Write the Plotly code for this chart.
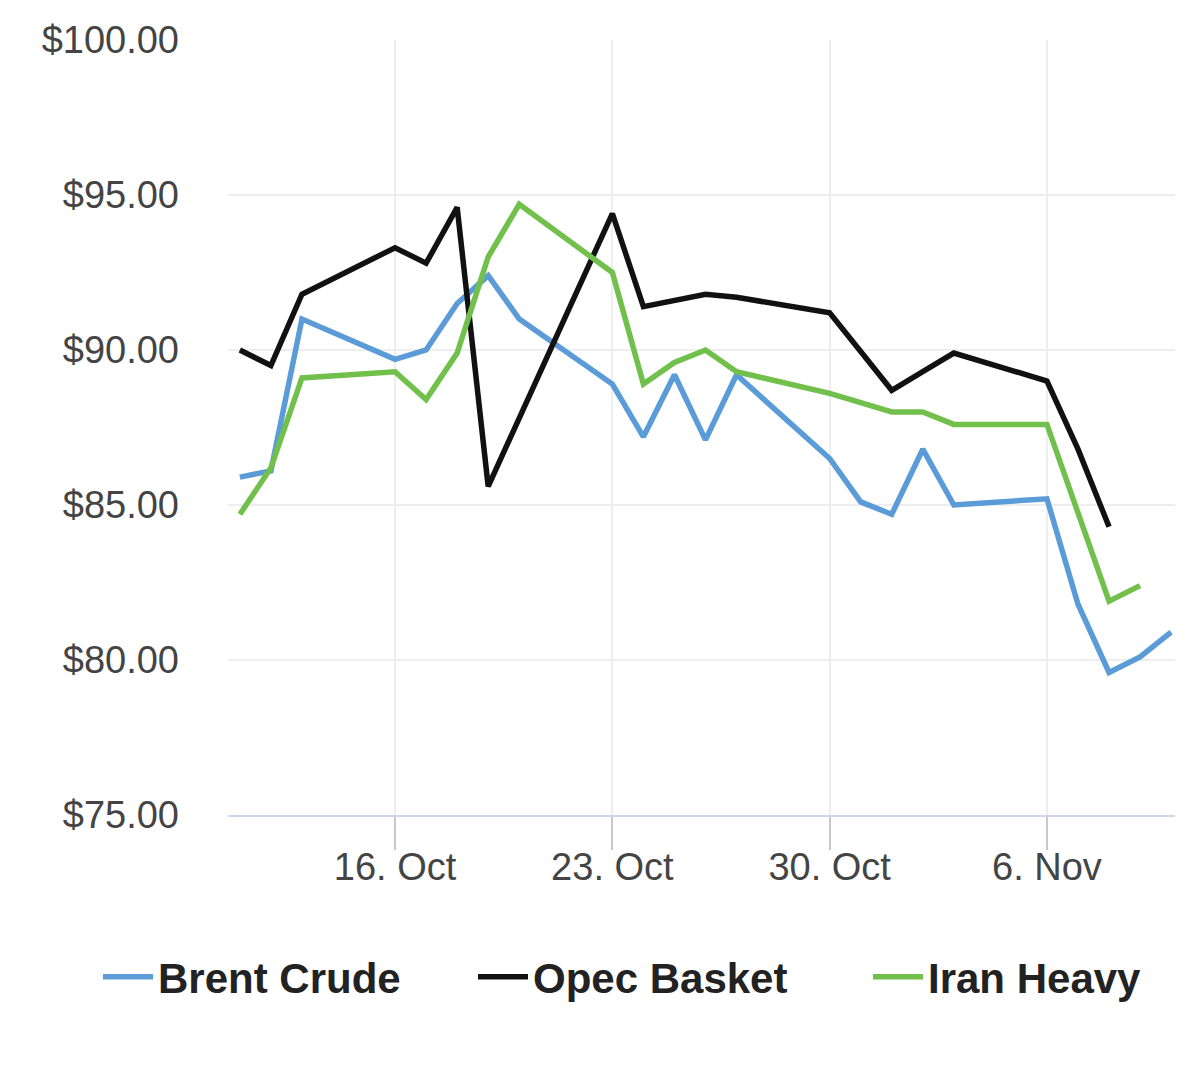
import plotly.graph_objects as go

dates = ["2023-10-11", "2023-10-12", "2023-10-13", "2023-10-16", "2023-10-17",
         "2023-10-18", "2023-10-19", "2023-10-20", "2023-10-23", "2023-10-24",
         "2023-10-25", "2023-10-26", "2023-10-27", "2023-10-30", "2023-10-31",
         "2023-11-01", "2023-11-02", "2023-11-03", "2023-11-06", "2023-11-07",
         "2023-11-08", "2023-11-09", "2023-11-10"]

brent_crude = [85.9, 86.1, 91.0, 89.7, 90.0, 91.5, 92.4, 91.0, 88.9, 87.2,
               89.2, 87.1, 89.2, 86.5, 85.1, 84.7, 86.8, 85.0, 85.2, 81.8,
               79.6, 80.1, 80.9]

opec_basket = [90.0, 89.5, 91.8, 93.3, 92.8, 94.6, 85.6, None, 94.4, 91.4,
               91.6, 91.8, 91.7, 91.2, 89.95, 88.7, 89.3, 89.9, 89.0, 86.8,
               84.3, None, None]

iran_heavy = [84.7, 86.2, 89.1, 89.3, 88.4, 89.9, 93.0, 94.7, 92.5, 88.9,
              89.6, 90.0, 89.3, 88.6, 88.3, 88.0, 88.0, 87.6, 87.6, 84.8,
              81.9, 82.4, None]

tick_dates = ["2023-10-16", "2023-10-23", "2023-10-30", "2023-11-06"]
y_ticks = [75, 80, 85, 90, 95, 100]
y_tick_text = ["$%.2f" % v for v in y_ticks]

FONT = "Liberation Sans, Arial, sans-serif"

fig = go.Figure()
series = [
    ("Brent Crude", brent_crude, "#5a9bd8", "legend"),
    ("Opec Basket", opec_basket, "#111111", "legend2"),
    ("Iran Heavy", iran_heavy, "#71c04b", "legend3"),
]
for name, vals, color, lg in series:
    fig.add_trace(go.Scatter(
        x=dates, y=vals, name=name, mode="lines",
        line=dict(color=color, width=5.5),
        connectgaps=True, legend=lg,
    ))

# page is offset by the default 8px body margin
legend_common = dict(
    orientation="h", xref="container", yref="container",
    y=1 - 969 / 1074, yanchor="middle", xanchor="left",
    font=dict(family=FONT, size=42, color="#222222", weight="bold"),
    itemwidth=50, bgcolor="rgba(0,0,0,0)", borderwidth=0,
)

fig.update_layout(
    width=1200, height=1074,
    paper_bgcolor="white", plot_bgcolor="white",
    margin=dict(l=220, r=33, t=32, b=267),
    showlegend=True,
    legend=dict(legend_common, x=90 / 1200),
    legend2=dict(legend_common, x=465 / 1200),
    legend3=dict(legend_common, x=860 / 1200),
    xaxis=dict(
        type="date",
        range=["2023-10-10 14:50", "2023-11-10 03:00"],
        tickvals=tick_dates, tickformat="%-d. %b",
        showgrid=True, gridcolor="#eeeeee", gridwidth=2,
        showline=True, linecolor="#ccd6eb", linewidth=2,
        ticks="outside", ticklen=33, tickcolor="#c8c8c8", tickwidth=2,
        ticklabelstandoff=-16,
        tickfont=dict(family=FONT, size=38, color="#444444"),
        zeroline=False,
    ),
    yaxis=dict(
        range=[75, 100], tickvals=y_ticks, ticktext=y_tick_text,
        showgrid=True, gridcolor="#eeeeee", gridwidth=2,
        showline=False, zeroline=False, ticks="",
        ticklabelstandoff=48,
        tickfont=dict(family=FONT, size=38, color="#444444"),
    ),
)

fig.write_html("out.html")
